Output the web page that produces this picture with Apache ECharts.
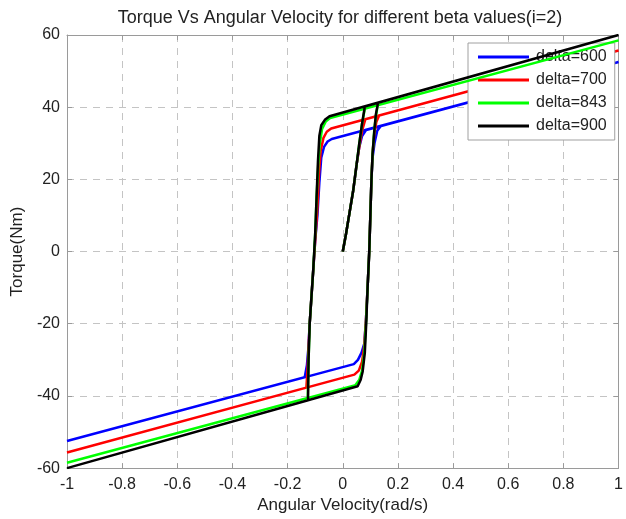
<!DOCTYPE html>
<html>
<head>
<meta charset="utf-8">
<script src="https://cdn.jsdelivr.net/npm/echarts@6/dist/echarts.min.js"></script>
<style>html,body{margin:0;padding:0;background:#fff;}#c{width:626px;height:519px;}</style>
</head>
<body>
<div id="c"></div>
<script>
const titleText = 'Torque Vs Angular Velocity for different beta values(i=2)';
const xName = 'Angular Velocity(rad/s)';
const yName = 'Torque(Nm)';
const seriesNames = ['delta=600', 'delta=700', 'delta=843', 'delta=900'];
const seriesColors = ['#0000ff', '#ff0000', '#00ff00', '#000000'];

const delta600 = [
  [0,0],[0.012,5],[0.025,11],[0.038,17],[0.05,24],[0.06,29],[0.07,32],[0.085,33.7],
  [1,52.5],
  [-0.04,31.2],[-0.055,30.5],[-0.068,29],[-0.078,26],[-0.085,19],[-0.092,10],[-0.1,3],[-0.107,-5],[-0.114,-13],[-0.12,-20],[-0.125,-27],[-0.13,-31.5],[-0.138,-34.8],
  [-1,-52.5],
  [0.04,-31.2],[0.055,-30],[0.068,-28],[0.078,-25.5],[0.084,-19],[0.09,-10],[0.096,0],[0.1,10],[0.104,20],[0.108,26],[0.115,30],[0.125,33.5],[0.138,34.8]
];
const delta700 = [
  [0,0],[0.012,5],[0.025,11],[0.038,17],[0.05,24],[0.06,29],[0.07,33.5],[0.082,36.7],
  [1,55.7],
  [-0.042,34.1],[-0.058,33.2],[-0.07,31.5],[-0.08,28],[-0.086,22],[-0.092,12],[-0.1,3],[-0.107,-5],[-0.114,-13],[-0.12,-20],[-0.125,-28],[-0.128,-33],[-0.132,-37.7],
  [-1,-55.7],
  [0.042,-34.1],[0.058,-33],[0.07,-30.5],[0.078,-26],[0.084,-19],[0.09,-10],[0.096,0],[0.1,10],[0.104,20],[0.108,27],[0.114,32.5],[0.122,36],[0.132,37.7]
];
const delta843 = [
  [0,0],[0.012,5],[0.025,11],[0.038,17],[0.05,24],[0.06,30],[0.07,35.5],[0.08,39.6],
  [1,58.5],
  [-0.046,37],[-0.062,36],[-0.075,34],[-0.083,30],[-0.089,24],[-0.095,15],[-0.1,5],[-0.107,-5],[-0.114,-13],[-0.12,-20],[-0.124,-30],[-0.127,-40.6],
  [-1,-58.5],
  [0.046,-37],[0.06,-35.5],[0.07,-33],[0.078,-28],[0.084,-20],[0.09,-10],[0.096,0],[0.1,10],[0.104,20],[0.108,27],[0.114,33.5],[0.12,37.5],[0.127,40.6]
];
const delta900 = [
  [0,0],[0.012,5],[0.025,11],[0.038,17],[0.05,24],[0.06,30],[0.07,35.5],[0.08,40.2],
  [1,60],
  [-0.048,37.5],[-0.065,36.5],[-0.078,35],[-0.085,32],[-0.09,25],[-0.095,15],[-0.1,5],[-0.107,-5],[-0.114,-13],[-0.12,-20],[-0.124,-30],[-0.126,-41.2],
  [-1,-60],
  [0.054,-37.3],[0.065,-35.5],[0.072,-33.3],[0.08,-28],[0.085,-20],[0.09,-10],[0.096,0],[0.1,10],[0.104,20],[0.108,27],[0.115,34],[0.12,38],[0.128,41.3]
];
const seriesData = [delta600, delta700, delta843, delta900];

const FONT = 'Liberation Sans, Arial, sans-serif';
const axisGray = '#9a9a9a';
const gridGray = '#c4c4c4';
const labelColor = '#222';

const chart = echarts.init(document.getElementById('c'), null, {renderer: 'canvas'});
const gridCfg = {left: 67, top: 35, width: 556, height: 435};

function mkX(pos, main) {
  return {
    type: 'value', min: -1, max: 1, interval: 0.2, position: pos,
    name: main ? xName : '', nameLocation: 'middle', nameGap: 26,
    nameTextStyle: {fontFamily: FONT, fontSize: 17, color: labelColor},
    axisLine: {show: true, onZero: false, lineStyle: {color: axisGray, width: 1}},
    axisTick: {show: true, inside: true, length: 5, lineStyle: {color: axisGray}},
    axisLabel: {show: main, margin: 8, fontFamily: FONT, fontSize: 16, color: labelColor},
    splitLine: {show: main, lineStyle: {color: gridGray, type: [7, 6], width: 1}}
  };
}
function mkY(pos, main) {
  return {
    type: 'value', min: -60, max: 60, interval: 20, position: pos,
    name: main ? yName : '', nameLocation: 'middle', nameGap: 40,
    nameTextStyle: {fontFamily: FONT, fontSize: 17, color: labelColor},
    axisLine: {show: true, onZero: false, lineStyle: {color: axisGray, width: 1}},
    axisTick: {show: true, inside: true, length: 5, lineStyle: {color: axisGray}},
    axisLabel: {show: main, margin: 7, fontFamily: FONT, fontSize: 16, color: labelColor},
    splitLine: {show: main, lineStyle: {color: gridGray, type: [7, 6], width: 1}}
  };
}

chart.setOption({
  animation: false,
  backgroundColor: '#fff',
  title: {
    text: titleText, left: 335, top: 4, textAlign: 'center',
    textStyle: {fontFamily: FONT, fontSize: 18, fontWeight: 'normal', color: labelColor}
  },
  grid: gridCfg,
  xAxis: [mkX('bottom', true), mkX('top', false)],
  yAxis: [mkY('left', true), mkY('right', false)],
  legend: {
    left: 468, top: 43, orient: 'vertical',
    padding: [5, 8, 5, 10], itemGap: 5,
    itemWidth: 51, itemHeight: 3, icon: 'rect',
    backgroundColor: '#fff', borderColor: '#a0a0a0', borderWidth: 1, borderRadius: 0,
    textStyle: {fontFamily: FONT, fontSize: 16, color: labelColor, lineHeight: 18, padding: [0, 0, 0, 2]},
    data: seriesNames
  },
  series: seriesData.map((d, i) => ({
    name: seriesNames[i], type: 'line', data: d,
    xAxisIndex: 0, yAxisIndex: 0,
    showSymbol: false, symbol: 'none', smooth: false,
    color: seriesColors[i],
    lineStyle: {color: seriesColors[i], width: 2.5},
    z: 2 + i
  }))
});
</script>
</body>
</html>
